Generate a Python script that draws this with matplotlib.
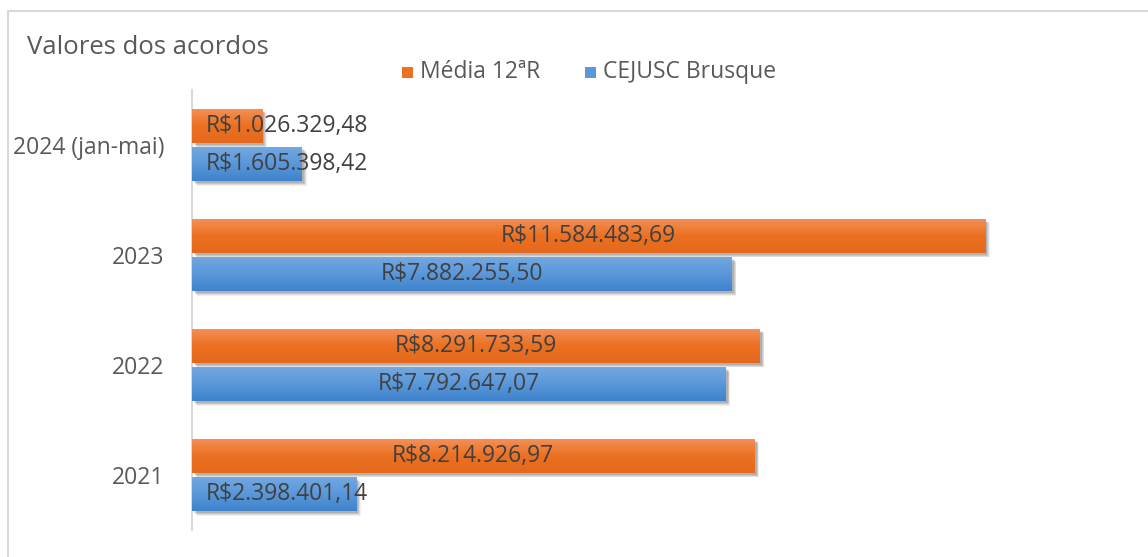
import matplotlib.pyplot as plt
import numpy as np
from matplotlib.colors import LinearSegmentedColormap
from matplotlib.patches import Rectangle
from matplotlib.transforms import offset_copy

years = ['2021', '2022', '2023', '2024 (jan-mai)']
media_12r = [8214926.97, 8291733.59, 11584483.69, 1026329.48]
cejusc = [2398401.14, 7792647.07, 7882255.50, 1605398.42]
series_names = ['Média 12ªR', 'CEJUSC Brusque']

TEXT = '#595959'
LABEL = '#404040'
ORANGE = ('#F3915A', '#EC7122', '#E5681C')
BLUE = ('#75A9E0', '#5A98DA', '#3F83CC')

plt.rcParams['font.family'] = ['Open Sans', 'DejaVu Sans']


def fmt_brl(v):
    s = f'{v:,.2f}'
    s = s.replace(',', 'X').replace('.', ',').replace('X', '.')
    return 'R$' + s


def gradient_bars(ax, bars, colors):
    cmap = LinearSegmentedColormap.from_list('g', list(colors))
    grad = np.linspace(0, 1, 64).reshape(-1, 1)
    for b in bars:
        x, y = b.get_x(), b.get_y()
        w, h = b.get_width(), b.get_height()
        # soft drop shadow
        for i, a in enumerate([0.10, 0.10, 0.08, 0.06]):
            tr = offset_copy(ax.transData, fig=ax.figure, x=1.5 + i * 0.6,
                             y=-(1.5 + i * 0.6), units='points')
            ax.add_patch(Rectangle((x, y), w, h, transform=tr,
                                   facecolor='black', alpha=a,
                                   edgecolor='none', zorder=1))
        im = ax.imshow(grad, cmap=cmap, aspect='auto',
                       extent=(x, x + w, y, y + h), origin='upper', zorder=3)
        im.set_clip_path(b)
        b.set_facecolor('none')


fig = plt.figure(figsize=(11.48, 5.57), dpi=100)
ax = fig.add_axes([192 / 1148, 1 - 530 / 557, (1120 - 192) / 1148, 440 / 557])

y = np.arange(len(years))
h = 0.31
gap = 0.02
b_or = ax.barh(y + h / 2 + gap, media_12r, height=h, zorder=2)
b_bl = ax.barh(y - h / 2 - gap, cejusc, height=h, zorder=2)
gradient_bars(ax, b_or, ORANGE)
gradient_bars(ax, b_bl, BLUE)

for bars, vals in [(b_or, media_12r), (b_bl, cejusc)]:
    for b, v in zip(bars, vals):
        yc = b.get_y() + b.get_height() / 2
        if v > 3.5e6:
            ax.text(v / 2, yc, fmt_brl(v), ha='center', va='center',
                    fontsize=16.5, color=LABEL, zorder=5)
        else:
            ax.text(0.2e6, yc, fmt_brl(v), ha='left', va='center',
                    fontsize=16.5, color=LABEL, zorder=5)

ax.set_xlim(0, 13.55e6)
ax.set_ylim(-0.5, 3.5)
ax.set_yticks(y)
ax.set_yticklabels(years, fontsize=16.5, color=TEXT)
ax.tick_params(axis='y', length=0, pad=20)
ax.set_xticks([])
for s in ['top', 'right', 'bottom']:
    ax.spines[s].set_visible(False)
ax.spines['left'].set_color('#D9D9D9')
ax.spines['left'].set_linewidth(1.5)

fig.text(27 / 1148, 1 - 48 / 557, 'Valores dos acordos', fontsize=18.5,
         color=TEXT, va='center', ha='left')

# legend
for x0, name, col in [(402, series_names[0], ORANGE[1]),
                      (585, series_names[1], BLUE[1])]:
    fig.patches.append(Rectangle((x0 / 1148, 1 - 78 / 557), 11 / 1148, 11 / 557,
                                 transform=fig.transFigure, facecolor=col,
                                 edgecolor='none'))
    fig.text((x0 + 18) / 1148, 1 - 72 / 557, name, fontsize=16.5,
             color=TEXT, va='center', ha='left')

# chart border
fig.patches.append(Rectangle((8 / 1148, -0.1), 1.2, 1 - 11 / 557 + 0.1,
                             transform=fig.transFigure, facecolor='none',
                             edgecolor='#D9D9D9', linewidth=1.5))

fig.savefig('out.png', dpi=100)
